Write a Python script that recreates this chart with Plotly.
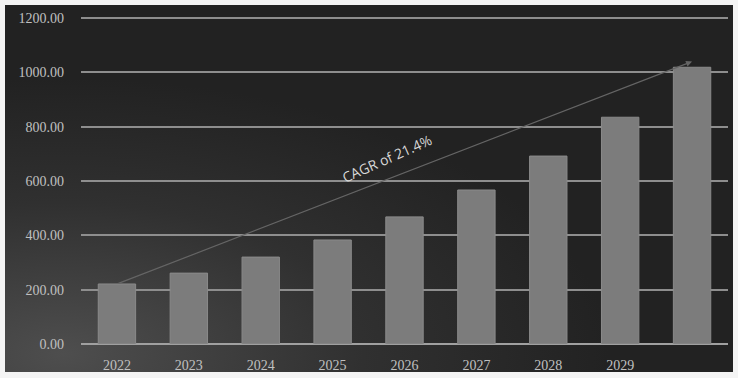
import base64
import plotly.graph_objects as go

years = [2022, 2023, 2024, 2025, 2026, 2027, 2028, 2029, 2030]
tick_labels = ["2022", "2023", "2024", "2025", "2026", "2027", "2028", "2029", ""]
values = [221, 261, 320, 383, 468, 567, 692, 835, 1019]
y_ticks = [0, 200, 400, 600, 800, 1000, 1200]
cagr_label = "CAGR of 21.4%"
cagr_start = (2022, 221)
cagr_end = (2030, 1040)

W, H = 738, 378
ml, mr, mt, mb = 81, 10, 17, 34
pw, ph = W - ml - mr, H - mt - mb

svg = """<svg xmlns='http://www.w3.org/2000/svg' width='728' height='367' preserveAspectRatio='none'>
<defs><radialGradient id='g' cx='0.08' cy='0.95' r='0.75' gradientUnits='objectBoundingBox'>
<stop offset='0' stop-color='#4e4e4e'/><stop offset='0.55' stop-color='#303030'/><stop offset='1' stop-color='#222222'/>
</radialGradient></defs>
<rect width='728' height='367' fill='url(#g)'/></svg>"""
bg_uri = "data:image/svg+xml;base64," + base64.b64encode(svg.encode()).decode()

fig = go.Figure()
fig.add_trace(go.Bar(
    x=years, y=values,
    marker=dict(color="#7c7c7c", line=dict(color="#8a8a8a", width=1)),
    width=0.52,
))

fig.add_annotation(
    x=cagr_end[0], y=cagr_end[1], ax=cagr_start[0], ay=cagr_start[1],
    xref="x", yref="y", axref="x", ayref="y",
    showarrow=True, arrowhead=2, arrowsize=1, arrowwidth=1.2, arrowcolor="#656565",
    text="",
)
fig.add_annotation(
    x=2025.75, y=682, xref="x", yref="y", text=cagr_label, showarrow=False,
    textangle=-24, font=dict(family="Open Sans", size=14, color="#d8d8d8"),
)

fig.add_layout_image(dict(
    source=bg_uri, xref="paper", yref="paper",
    x=(5 - ml) / pw, y=(H - mb - 5) / ph,
    sizex=728 / pw, sizey=367 / ph,
    xanchor="left", yanchor="top", sizing="stretch", layer="below",
))

fig.update_layout(
    width=W, height=H,
    margin=dict(l=ml, r=mr, t=mt, b=mb),
    paper_bgcolor="#f4f4f4", plot_bgcolor="rgba(0,0,0,0)",
    showlegend=False, bargap=0.48,
    font=dict(family="Liberation Serif", size=14, color="#c0c0c0"),
)
fig.update_xaxes(
    tickvals=years, ticktext=tick_labels, range=[2021.5, 2030.5],
    showgrid=False, zeroline=False, showline=False, ticks="",
    ticklabelstandoff=11, automargin=False,
    tickfont=dict(family="Liberation Serif", size=14, color="#c0c0c0"),
)
fig.update_yaxes(
    range=[0, 1204], tickvals=y_ticks,
    ticktext=[f"{v:.2f}" for v in y_ticks],
    showgrid=True, gridcolor="#8e8e8e", gridwidth=2,
    zeroline=True, zerolinecolor="#a0a0a0", zerolinewidth=2,
    showline=False, ticks="", ticklabelstandoff=16, automargin=False,
    tickfont=dict(family="Liberation Serif", size=14, color="#c0c0c0"),
)

fig.write_html("out.html", config={"displayModeBar": False},
               post_script="document.body.style.margin='0';")
